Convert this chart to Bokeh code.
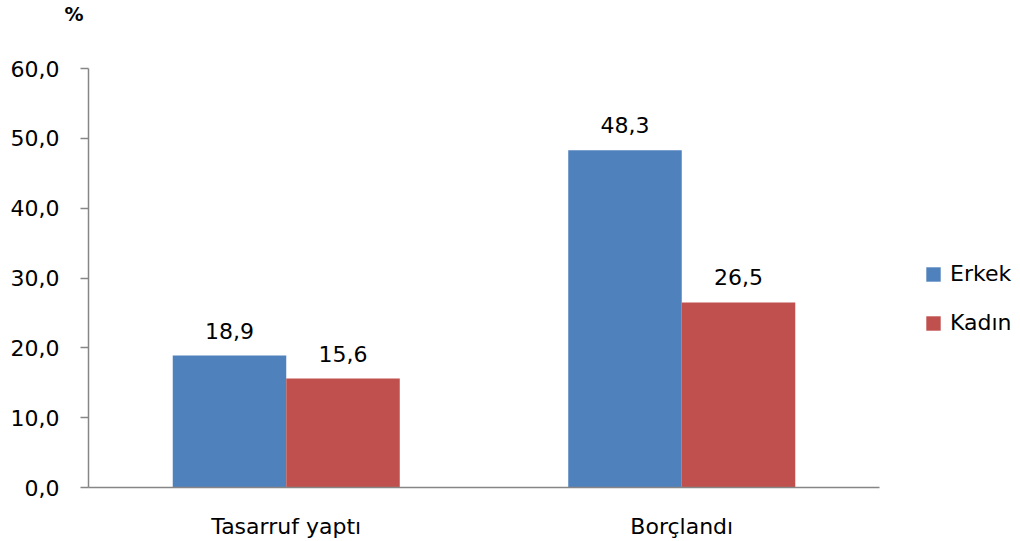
from bokeh.plotting import figure
from bokeh.models import (Range1d, Legend, LegendItem,
                          ColumnDataSource, FixedTicker)
from bokeh.transform import dodge
from bokeh.core.properties import value
from bokeh.embed import file_html
from bokeh.resources import INLINE

categories = ["Tasarruf yaptı", "Borçlandı"]
series_names = ["Erkek", "Kadın"]
erkek = [18.9, 48.3]
kadin = [15.6, 26.5]
y_ticks = [0, 10, 20, 30, 40, 50, 60]
y_tick_labels = ["0,0", "10,0", "20,0", "30,0", "40,0", "50,0", "60,0"]
y_title = "%"

colors = ["#4F81BD", "#C0504D"]
FONT = "DejaVu Sans"
FS = "22px"
AXIS_COLOR = "#868686"


def fmt(v):
    return f"{v:.1f}".replace(".", ",")


# category i occupies [i, i+1] on a numeric axis; the extra room on the
# right holds the legend
cat_pos = [i + 0.5 for i in range(len(categories))]

src = ColumnDataSource(dict(
    x=cat_pos,
    erkek=erkek,
    kadin=kadin,
    erkek_lbl=[fmt(v) for v in erkek],
    kadin_lbl=[fmt(v) for v in kadin],
))

p = figure(x_range=Range1d(0, 2.3565), y_range=Range1d(0, 60),
           width=1020, height=541, output_backend="svg", toolbar_location=None,
           min_border_left=88, min_border_right=0, min_border_top=68,
           min_border_bottom=53)

bw = 0.287
off = bw / 2
r1 = p.vbar(x=dodge("x", -off), top="erkek", width=bw,
            source=src, fill_color=colors[0], line_color=None)
r2 = p.vbar(x=dodge("x", off), top="kadin", width=bw,
            source=src, fill_color=colors[1], line_color=None)

for col, o in (("erkek", -off), ("kadin", off)):
    p.text(x=dodge("x", o), y=col, text=col + "_lbl",
           source=src, text_align="center", text_baseline="alphabetic",
           y_offset=-25, text_font=value(FONT), text_font_size=FS,
           text_color="#000000")

# title "%" (two trailing blank lines lift it towards the top edge)
p.title.text = y_title + "\n\n"
p.title.align = "left"
p.title.vertical_align = "top"
p.title.offset = -24
p.title.standoff = -4
p.title.text_font = FONT
p.title.text_font_size = "19px"
p.title.text_font_style = "bold"
p.title.text_color = "#000000"

# axes
p.xgrid.visible = False
p.ygrid.visible = False
p.outline_line_color = None

p.yaxis.ticker = FixedTicker(ticks=y_ticks)
p.yaxis.major_label_overrides = {t: l for t, l in zip(y_ticks, y_tick_labels)}
p.yaxis.axis_line_color = AXIS_COLOR
p.yaxis.axis_line_width = 1.5
p.yaxis.major_tick_line_color = AXIS_COLOR
p.yaxis.major_tick_line_width = 1.5
p.yaxis.major_tick_out = 8
p.yaxis.major_tick_in = 0
p.yaxis.minor_tick_line_color = None
p.yaxis.major_label_standoff = 21
p.yaxis.major_label_text_font = FONT
p.yaxis.major_label_text_font_size = FS
p.yaxis.major_label_text_color = "#000000"

p.xaxis.bounds = (0, len(categories))
p.xaxis.ticker = FixedTicker(ticks=cat_pos)
p.xaxis.major_label_overrides = {x: c for x, c in zip(cat_pos, categories)}
p.xaxis.axis_line_color = AXIS_COLOR
p.xaxis.axis_line_width = 1.5
p.xaxis.major_tick_line_color = None
p.xaxis.minor_tick_line_color = None
p.xaxis.major_tick_out = 0
p.xaxis.major_tick_in = 0
p.xaxis.major_label_standoff = 26
p.xaxis.major_label_text_font = FONT
p.xaxis.major_label_text_font_size = FS
p.xaxis.major_label_text_color = "#000000"

legend = Legend(items=[LegendItem(label=series_names[0], renderers=[r1]),
                       LegendItem(label=series_names[1], renderers=[r2])],
                location=(836, 152), orientation="vertical",
                glyph_width=18, glyph_height=18, label_height=18,
                spacing=24, padding=0, margin=0, label_standoff=8,
                border_line_color=None, background_fill_alpha=0,
                label_text_font=FONT, label_text_font_size=FS,
                label_text_color="#000000", label_text_baseline="middle")
p.add_layout(legend)

open("out.html", "w").write(file_html(p, INLINE))
